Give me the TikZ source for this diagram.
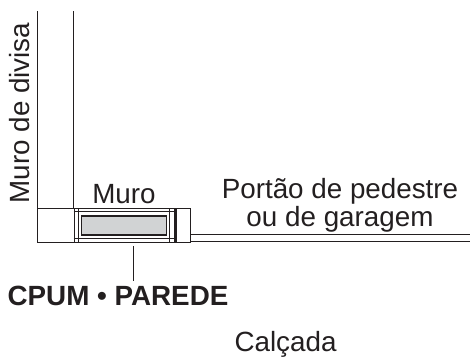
\documentclass[tikz,border=0pt]{standalone}
\usepackage{fontspec}
\setmainfont{Liberation Sans}
\definecolor{ink}{HTML}{231F20}
\definecolor{fillg}{HTML}{D1D3D4}
\tikzset{
  thin line/.style={draw=ink,line width=0.9pt},
  thick line/.style={draw=ink,line width=1.4pt},
  lbl/.style={text=ink,font=\fontsize{27.8}{32}\selectfont,inner sep=0pt,anchor=base},
}
\begin{document}
\begin{tikzpicture}[x=1pt,y=-1pt]
\useasboundingbox (0,0) rectangle (470,359);
\coordinate (wallA) at (37.7,11);
\coordinate (wallB) at (37.7,242);
\coordinate (wallC) at (73.5,11);
\coordinate (gateA) at (190,234.5);
\coordinate (gateB) at (470,234.5);
\coordinate (gateC) at (190,241.5);
\coordinate (gateD) at (470,241.5);
\coordinate (leadA) at (133,246);
\coordinate (leadB) at (133,281);
\draw[thin line] (wallA) -- (wallB) -- (73.5,242);
\draw[thin line] (37.7,208) -- (73.5,208);
\draw[thin line] (wallC) -- (73.5,208);
\node[thick line,minimum width=100.7pt,minimum height=34pt,inner sep=0pt,anchor=north west] (outer) at (73.5,208) {};
\draw[thin line] (78.7,208) -- (78.7,242) (169,208) -- (169,242);
\draw[thin line] (73.5,211.7) -- (174.2,211.7) (73.5,238.5) -- (174.2,238.5);
\node[thick line,fill=fillg,minimum width=84.7pt,minimum height=19pt,inner sep=0pt,anchor=north west] (core) at (81,215.3) {};
\node[thin line,minimum width=14.5pt,minimum height=34pt,inner sep=0pt,anchor=north west] (post) at (175.7,208) {};
\draw[thin line,line width=1.1pt] (gateA) -- (gateB) (gateC) -- (gateD);
\draw[thin line] (leadA) -- (leadB);
\node[lbl,rotate=90] (divisa) at (29.5,113) {Muro de divisa};
\node[lbl] (muro) at (124,203) {Muro};
\node[lbl] (portao) at (340,198) {Portão de pedestre};
\node[lbl] (ou) at (340,226) {ou de garagem};
\node[lbl,font=\fontsize{27.8}{32}\selectfont\bfseries] (cpum) at (118,305) {CPUM • PAREDE};
\node[lbl] (calcada) at (285.5,351) {Calçada};
\end{tikzpicture}
\end{document}
